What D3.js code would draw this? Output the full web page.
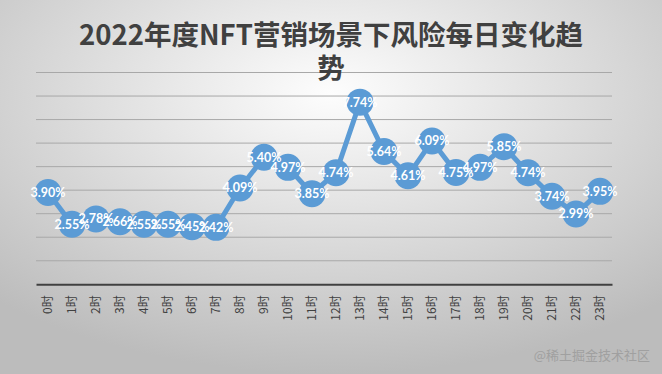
<!DOCTYPE html>
<html><head><meta charset="utf-8">
<script src="https://cdn.jsdelivr.net/npm/d3@7/dist/d3.min.js"></script>
<style>html,body{margin:0;padding:0;overflow:hidden}</style>
</head><body>
<svg id="c" width="662" height="374"></svg>
<script>
const hours = ["0时","1时","2时","3时","4时","5时","6时","7时","8时","9时","10时","11时","12时","13时","14时","15时","16时","17时","18时","19时","20时","21时","22时","23时"];
const values = [3.90,2.55,2.78,2.66,2.55,2.55,2.45,2.42,4.09,5.40,4.97,3.85,4.74,7.74,5.64,4.61,6.09,4.75,4.97,5.85,4.74,3.74,2.99,3.95];
const yTicks = [1,2,3,4,5,6,7,8,9];
const titleLines = ["2022年度NFT营销场景下风险每日变化趋","势"];

const svg = d3.select("#c");
const W = 662, H = 374;
const defs = svg.append("defs");
const g = defs.append("radialGradient").attr("id","bg").attr("cx","50%").attr("cy","25%").attr("r","75%");
g.append("stop").attr("offset","0%").attr("stop-color","#fdfdfd");
g.append("stop").attr("offset","100%").attr("stop-color","#bcbcbc");
svg.append("rect").attr("width",W).attr("height",H).attr("fill","url(#bg)");

const x = d3.scaleBand().domain(hours).range([36,612]);
const y = d3.scaleLinear().domain([0,9]).range([284.3,72.5]);

svg.append("g").selectAll("line").data(yTicks).join("line")
  .attr("x1",36).attr("x2",612).attr("y1",d=>y(d)).attr("y2",d=>y(d))
  .attr("stroke","#a8a8a8").attr("stroke-width",1);

const xAxis = svg.append("g").attr("transform",`translate(0,${y(0)})`)
  .call(d3.axisBottom(x).tickSize(0).tickPadding(0));
xAxis.select(".domain").attr("stroke","#404040").attr("stroke-width",2);
xAxis.selectAll("text")
  .attr("transform","rotate(-90)")
  .attr("text-anchor","end")
  .attr("x",-11).attr("y",0).attr("dy","0.35em")
  .attr("font-family","'Noto Sans CJK SC', sans-serif")
  .attr("font-size",12).attr("fill","#404040");

const t = svg.append("text").attr("text-anchor","middle")
  .attr("font-family","'Noto Sans CJK SC', sans-serif").attr("font-weight","bold")
  .attr("font-size",27.5).attr("fill","#404040");
titleLines.forEach((l,i)=>t.append("tspan").attr("x",331).attr("y",45+i*33).text(l));

const cx = d=>x(d)+x.bandwidth()/2;
const line = d3.line().x((d,i)=>cx(hours[i])).y(d=>y(d));
svg.append("path").datum(values).attr("d",line).attr("fill","none")
  .attr("stroke","#5b9bd5").attr("stroke-width",5);
svg.append("g").selectAll("circle").data(values).join("circle")
  .attr("cx",(d,i)=>cx(hours[i])).attr("cy",d=>y(d)).attr("r",13.5)
  .attr("fill","#5b9bd5");
svg.append("g").selectAll("text").data(values).join("text")
  .attr("x",(d,i)=>cx(hours[i])).attr("y",d=>y(d)).attr("dy","0.35em")
  .attr("text-anchor","middle").attr("font-family","Lato, sans-serif")
  .attr("font-weight","bold").attr("font-size",12.5).attr("fill","#ffffff")
  .text(d=>d.toFixed(2)+"%");

svg.append("text").attr("x",650).attr("y",360).attr("text-anchor","end")
  .attr("font-family","'Noto Sans CJK SC', sans-serif").attr("font-size",13)
  .attr("fill","#a0a0a0").text("@稀土掘金技术社区");
</script>
</body></html>
